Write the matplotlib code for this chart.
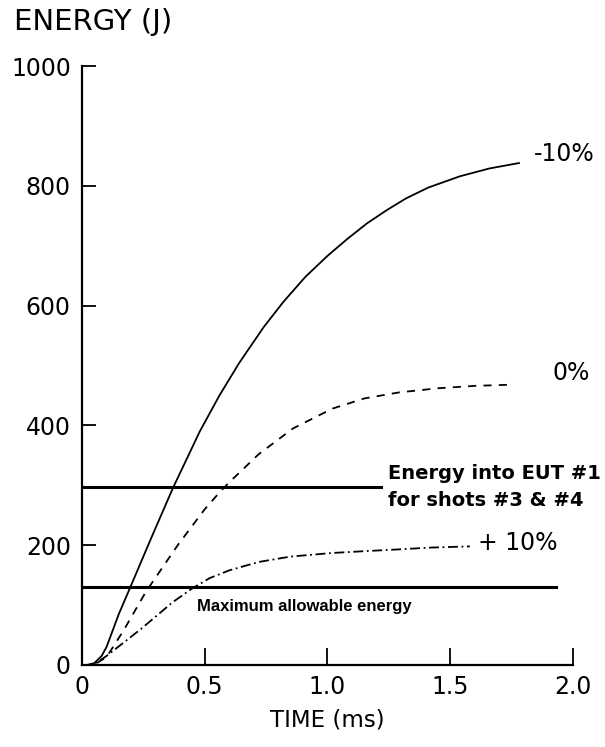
import matplotlib
matplotlib.use("Agg")
import matplotlib.pyplot as plt
import numpy as np

plt.rcParams['font.family'] = ['DejaVu Sans']

# -10 % curve (solid)
t_m10 = [0.0, 0.02, 0.05, 0.08, 0.10, 0.15, 0.195, 0.28, 0.37, 0.48, 0.56, 0.64, 0.74,
         0.82, 0.91, 1.00, 1.08, 1.16, 1.24, 1.32, 1.41, 1.54, 1.66, 1.78]
e_m10 = [0, 0, 3, 15, 30, 85, 128, 210, 295, 390, 450, 504, 564,
         606, 648, 683, 711, 737, 759, 779, 797, 816, 829, 838]

# 0 % curve (dashed)
t_0 = [0.0, 0.03, 0.06, 0.10, 0.17, 0.26, 0.39, 0.50, 0.56, 0.60, 0.72, 0.86, 1.02,
       1.15, 1.29, 1.45, 1.60, 1.75]
e_0 = [0, 0, 3, 13, 58, 122, 200, 260, 288, 305, 352, 395, 428,
       445, 455, 462, 466, 468]

# +10 % curve (dash-dot)
t_p10 = [0.0, 0.03, 0.06, 0.10, 0.24, 0.37, 0.45, 0.52, 0.60, 0.72, 0.85, 1.02,
         1.15, 1.29, 1.42, 1.58]
e_p10 = [0, 0, 4, 15, 60, 105, 128, 145, 158, 172, 181, 187,
         190, 193, 196, 198]

# reference levels
eut_level = 297
eut_end = 1.22
max_level = 130
max_end = 1.93

fig = plt.figure(figsize=(6.05, 7.47), dpi=100)
ax = fig.add_axes([0.1355, 0.1098, 0.8115, 0.8018])

ax.plot(t_m10, e_m10, color='black', lw=1.3)
ax.plot(t_0, e_0, color='black', lw=1.3, linestyle=(0, (4.5, 4)))
ax.plot(t_p10, e_p10, color='black', lw=1.3, linestyle=(0, (5.5, 2, 1, 2)))

ax.plot([0, eut_end], [eut_level, eut_level], color='black', lw=2.2)
ax.plot([0, max_end], [max_level, max_level], color='black', lw=2.2)

ax.set_xlim(0, 2.0)
ax.set_ylim(0, 1000)
ax.spines['top'].set_visible(False)
ax.spines['right'].set_visible(False)
ax.spines['left'].set_linewidth(1.6)
ax.spines['bottom'].set_linewidth(1.6)

ax.set_xticks([0, 0.5, 1.0, 1.5, 2.0])
ax.set_xticklabels(['0', '0.5', '1.0', '1.5', '2.0'])
ax.set_yticks([0, 200, 400, 600, 800, 1000])
ax.set_yticklabels(['0', '200', '400', '600', '800', '1000'])
ax.tick_params(axis='both', direction='in', labelsize=17, width=1.3)
ax.tick_params(axis='x', length=12, pad=7)
ax.tick_params(axis='y', length=10, pad=8)

ax.set_xlabel('TIME (ms)', fontsize=16.5, labelpad=7)
fig.text(0.023, 0.970, 'ENERGY (J)', fontsize=21, ha='left', va='center')

ax.text(1.84, 853, '-10%', fontsize=17, ha='left', va='center')
ax.text(1.915, 487, '0%', fontsize=17, ha='left', va='center')
ax.text(1.615, 203, '+ 10%', fontsize=17, ha='left', va='center')
ax.text(1.248, eut_level, 'Energy into EUT #1\nfor shots #3 & #4', fontsize=14,
        fontweight='bold', ha='left', va='center', linespacing=1.5)
ax.text(0.47, 98, 'Maximum allowable energy', fontsize=12,
        fontweight='bold', family='Liberation Sans', ha='left', va='center')

fig.savefig('out.png', dpi=100)
